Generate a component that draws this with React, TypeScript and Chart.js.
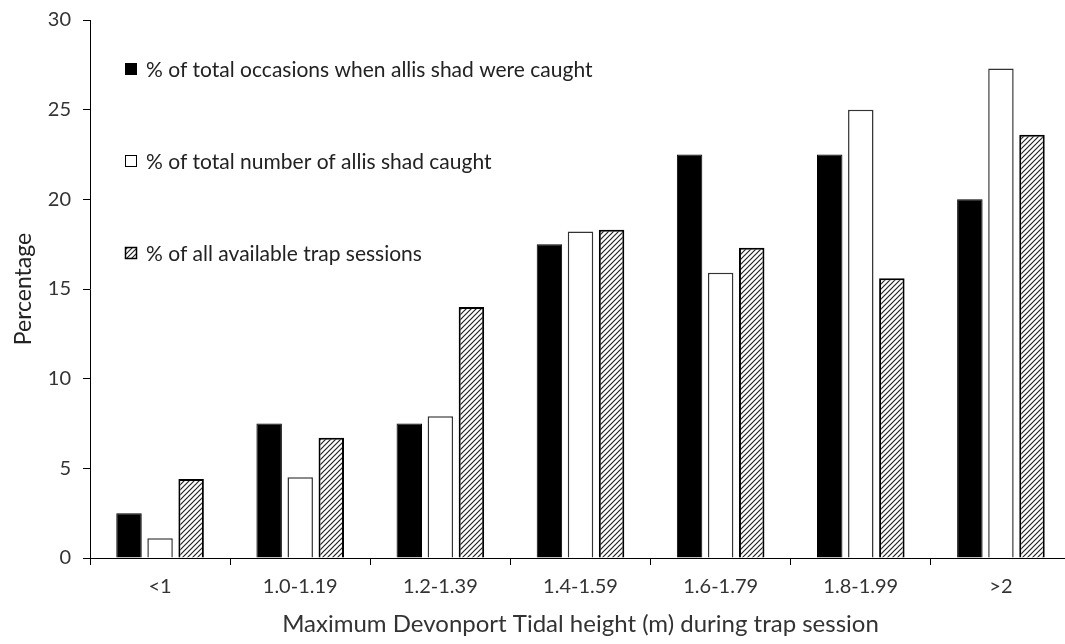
import React, { useEffect, useRef } from "react";
import { Chart, registerables } from "chart.js";

Chart.register(...registerables);

const categories = ["<1", "1.0-1.19", "1.2-1.39", "1.4-1.59", "1.6-1.79", "1.8-1.99", ">2"];
const occasionsCaught = [2.5, 7.5, 7.5, 17.5, 22.5, 22.5, 20.0];
const numberCaught = [1.1, 4.5, 7.9, 18.2, 15.9, 25.0, 27.3];
const trapSessions = [4.4, 6.7, 14.0, 18.3, 17.3, 15.6, 23.6];
const seriesLabels = [
  "% of total occasions when allis shad were caught",
  "% of total number of allis shad caught",
  "% of all available trap sessions",
];
const yTicks = [0, 5, 10, 15, 20, 25, 30];
const xTitle = "Maximum Devonport Tidal height (m) during trap session";
const yTitle = "Percentage";

const FONT = "Lato, 'Liberation Sans', sans-serif";

function makeHatch(): CanvasPattern | string {
  const s = 5;
  const tile = document.createElement("canvas");
  tile.width = s;
  tile.height = s;
  const c = tile.getContext("2d");
  if (!c) return "#888";
  c.fillStyle = "#fff";
  c.fillRect(0, 0, s, s);
  c.strokeStyle = "#222";
  c.lineWidth = 1.2;
  c.beginPath();
  c.moveTo(0, s);
  c.lineTo(s, 0);
  c.moveTo(-1, 1);
  c.lineTo(1, -1);
  c.moveTo(s - 1, s + 1);
  c.lineTo(s + 1, s - 1);
  c.stroke();
  const p = c.createPattern(tile, "repeat");
  return p || "#888";
}

export default function App() {
  const ref = useRef<HTMLCanvasElement | null>(null);

  useEffect(() => {
    if (!ref.current) return;
    const hatch = makeHatch();

    const legendPlugin = {
      id: "insideLegend",
      afterDraw(chart: any) {
        const ctx = chart.ctx;
        const items = [
          { fill: "#000", stroke: "#000", lw: 1 },
          { fill: "#fff", stroke: "#000", lw: 1 },
          { fill: hatch, stroke: "#000", lw: 1.5 },
        ];
        const ys = [69, 161, 253];
        ctx.save();
        items.forEach((it, i) => {
          const y = ys[i];
          ctx.fillStyle = it.fill as any;
          ctx.fillRect(125, y - 6, 12, 12);
          ctx.strokeStyle = it.stroke;
          ctx.lineWidth = it.lw;
          ctx.strokeRect(125.5, y - 5.5, 11, 11);
          ctx.fillStyle = "#222";
          ctx.font = `21px ${FONT}`;
          ctx.textBaseline = "middle";
          ctx.textAlign = "left";
          ctx.fillText(seriesLabels[i], 146, y + 1);
        });
        ctx.restore();
      },
    };

    const chart = new Chart(ref.current, {
      type: "bar",
      data: {
        labels: categories,
        datasets: [
          {
            label: seriesLabels[0],
            data: occasionsCaught,
            backgroundColor: "#000",
            borderColor: "#000",
            borderWidth: 1,
          },
          {
            label: seriesLabels[1],
            data: numberCaught,
            backgroundColor: "#fff",
            borderColor: "#333",
            borderWidth: 1.5,
          },
          {
            label: seriesLabels[2],
            data: trapSessions,
            backgroundColor: hatch as any,
            borderColor: "#000",
            borderWidth: 2,
          },
        ],
      },
      plugins: [legendPlugin],
      options: {
        responsive: false,
        animation: false,
        maintainAspectRatio: false,
        layout: { padding: { top: 20, right: 1, left: 0, bottom: 0 } },
        plugins: {
          legend: { display: false },
          tooltip: { enabled: false },
        },
        datasets: {
          bar: { categoryPercentage: 0.665, barPercentage: 0.82 },
        },
        scales: {
          x: {
            grid: {
              display: true,
              drawOnChartArea: false,
              drawTicks: true,
              tickLength: 7,
              color: "#000",
              offset: true,
            },
            border: { display: true, color: "#000", width: 1 },
            ticks: {
              color: "#333",
              font: { family: FONT, size: 20 },
              padding: 10,
            },
            title: {
              display: true,
              text: xTitle,
              color: "#333",
              font: { family: FONT, size: 24 },
              padding: { top: 4, bottom: 5 },
            },
            afterFit(scale: any) {
              scale.height = 86;
              scale.paddingLeft = 0;
              scale.paddingRight = 0;
            },
          },
          y: {
            min: 0,
            max: 30,
            afterBuildTicks(scale: any) {
              scale.ticks = yTicks.map((v) => ({ value: v }));
            },
            grid: {
              display: true,
              drawOnChartArea: false,
              drawTicks: true,
              tickLength: 7,
              color: "#000",
            },
            border: { display: true, color: "#000", width: 1 },
            ticks: {
              color: "#333",
              font: { family: FONT, size: 20 },
              padding: 12,
            },
            title: {
              display: true,
              text: yTitle,
              color: "#222",
              font: { family: FONT, size: 23 },
              padding: { top: 10, bottom: 6 },
            },
            afterFit(scale: any) {
              scale.width = 90;
              scale.paddingTop = 0;
              scale.paddingBottom = 0;
            },
          },
        },
      },
    });
    return () => chart.destroy();
  }, []);

  return (
    <div style={{ position: "fixed", left: 0, top: 0, width: 1072, height: 644, background: "#fff" }}>
      <canvas ref={ref} width={1072} height={644} style={{ display: "block", width: 1072, height: 644 }} />
    </div>
  );
}
